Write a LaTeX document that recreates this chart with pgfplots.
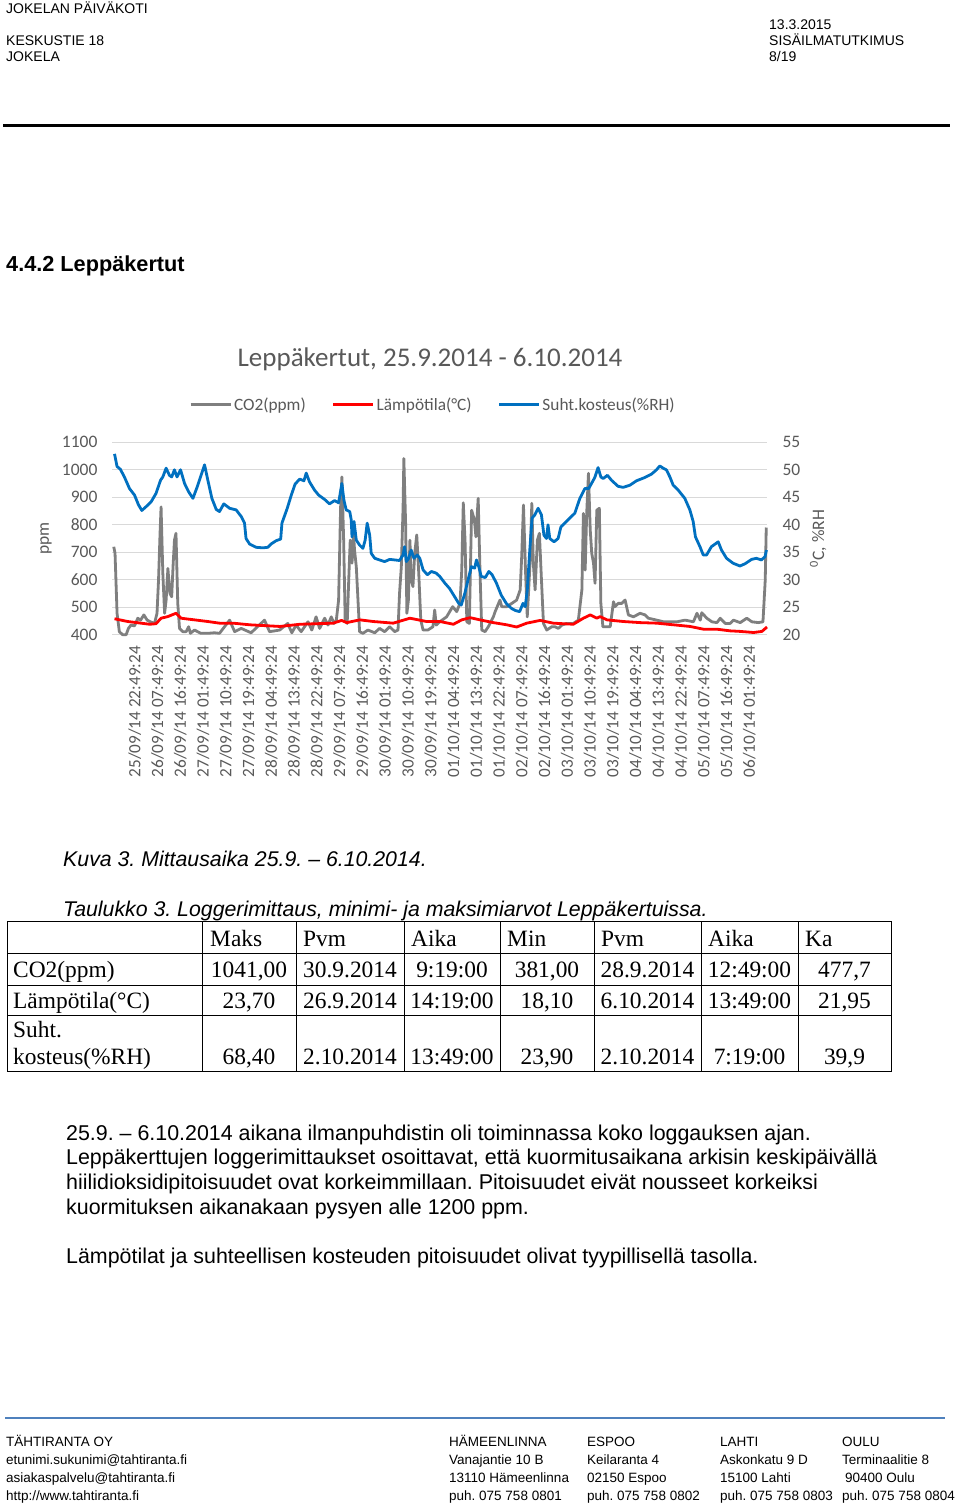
\documentclass[border=0pt]{standalone}
\usepackage{pgfplots}
\pgfplotsset{compat=1.18}
\usepackage{fontspec}
\setmainfont{Liberation Sans}
\newfontfamily\calibri{Carlito}
\newfontfamily\tnr{Liberation Serif}
\definecolor{tgray}{HTML}{595959}
\definecolor{sgray}{HTML}{7F7F7F}
\definecolor{sblue}{HTML}{0070C0}
\definecolor{sred}{HTML}{FF0000}
\definecolor{gridc}{HTML}{D9D9D9}
\definecolor{footc}{HTML}{4F81BD}
\newcommand\fs[1]{\fontsize{#1}{#1}\selectfont}
\frenchspacing
\begin{document}
\begin{tikzpicture}[x=1pt,y=1pt]
\path[use as bounding box, fill=white] (0pt,0pt) rectangle (960pt,-1506pt);
% header
\begin{scope}[every node/.style={anchor=base west, inner sep=0pt, font=\fs{14}}]
\node at (6pt,-14pt) {JOKELAN PÄIVÄKOTI};
\node at (769pt,-30pt) {13.3.2015};
\node at (6pt,-46pt) {KESKUSTIE 18};
\node at (769pt,-46pt) {SISÄILMATUTKIMUS};
\node at (6pt,-62pt) {JOKELA};
\node at (769pt,-62pt) {8/19};
\end{scope}
\draw[line width=3pt] (3pt,-126pt) -- (950pt,-126pt);
\node[anchor=base west, inner sep=0pt, font=\bfseries\fs{21.7}] at (6pt,-272pt) {4.4.2 Leppäkertut};

% chart
\begin{axis}[
  at={(112pt,-634.7pt)}, anchor=south west,
  scale only axis, width=655pt, height=192.4pt,
  xmin=-9, xmax=250, ymin=400, ymax=1100,
  ytick={400,500,...,1100},
  xtick={0,9,...,243},
  xticklabels={25/09/14 22:49:24,26/09/14 07:49:24,26/09/14 16:49:24,27/09/14 01:49:24,27/09/14 10:49:24,27/09/14 19:49:24,28/09/14 04:49:24,28/09/14 13:49:24,28/09/14 22:49:24,29/09/14 07:49:24,29/09/14 16:49:24,30/09/14 01:49:24,30/09/14 10:49:24,30/09/14 19:49:24,01/10/14 04:49:24,01/10/14 13:49:24,01/10/14 22:49:24,02/10/14 07:49:24,02/10/14 16:49:24,03/10/14 01:49:24,03/10/14 10:49:24,03/10/14 19:49:24,04/10/14 04:49:24,04/10/14 13:49:24,04/10/14 22:49:24,05/10/14 07:49:24,05/10/14 16:49:24,06/10/14 01:49:24},
  axis line style={draw=none},
  major tick length=0pt,
  ymajorgrids, grid style={gridc, line width=1pt},
  tick label style={font=\calibri\fs{17.5}, text=tgray},
  xticklabel style={font=\calibri\fs{17.2}, rotate=90, anchor=east},
  yticklabel shift=11pt, xticklabel shift=8pt,
  /pgf/number format/assume math mode=true,
  /pgf/number format/1000 sep={},
  ylabel={ppm},
  ylabel style={font=\calibri\fs{17.5}, text=tgray, at={(axis description cs:-0.1008,0.5)}, anchor=center},
  title={Leppäkertut, 25.9.2014 - 6.10.2014},
  title style={at={(0.4855,1.402)}, anchor=center, font=\calibri\fs{27}, text=tgray},
  clip=false,
]
\addplot[sgray, line width=2.8pt, line join=round] coordinates {
(-8.3,720) (-7.8,696) (-7.0,478) (-6.1,411) (-4.8,400) (-3.4,400) (-2.5,423) (-1.5,435) (-0.1,432) (1.2,460) (2.3,453) (3.6,472) (4.9,453) (6.2,447) (7.8,441) (8.8,478) (9.4,599) (10.0,769) (10.4,865) (11.1,623) (11.8,478) (12.4,526) (13.1,641) (13.9,551) (14.6,538) (15.2,660) (15.7,744) (16.3,769) (17.0,514) (17.7,423) (19.0,411) (20.3,411) (21.3,429) (22.0,405) (23.6,417) (24.9,411) (26.2,405) (28.9,405) (31.5,407) (33.5,405) (37.5,453) (39.5,411) (42.1,423) (46.0,407) (51.3,453) (53.3,411) (57.3,417) (60.5,441) (62.1,407) (63.8,435) (65.8,411) (68.5,447) (70.0,417) (71.7,465) (73.1,423) (75.1,460) (76.4,435) (77.7,465) (78.8,441) (79.7,453) (80.6,526) (81.4,865) (81.9,974) (82.6,744) (83.2,453) (84.0,441) (84.7,623) (85.2,744) (85.9,660) (86.5,769) (86.9,708) (87.6,647) (88.2,538) (88.9,411) (90.2,405) (92.2,417) (94.9,407) (96.8,423) (98.8,411) (100.8,429) (102.8,411) (104.1,417) (104.7,551) (105.4,647) (106.1,865) (106.4,1041) (107.1,805) (107.6,478) (108.2,526) (108.8,744) (109.3,599) (110.0,575) (110.7,696) (111.5,763) (112.3,623) (113.1,453) (114.0,417) (115.9,417) (117.9,429) (118.6,490) (119.2,435) (120.6,447) (123.3,465) (125.7,502) (127.3,484) (128.6,514) (129.3,635) (129.9,880) (130.6,744) (131.3,447) (132.3,441) (133.2,853) (134.3,817) (134.9,756) (135.8,896) (136.5,635) (137.2,417) (138.5,411) (139.8,429) (141.8,465) (142.5,484) (144.4,526) (145.1,502) (147.1,502) (149.1,514) (151.0,526) (152.4,563) (153.0,684) (153.7,872) (154.5,635) (155.2,465) (156.3,660) (157.0,878) (157.6,660) (158.3,563) (159.2,744) (160.0,769) (160.7,623) (161.6,441) (162.9,417) (164.9,429) (166.2,429) (167.5,423) (168.9,435) (170.8,441) (173.4,441) (175.4,453) (176.8,563) (177.4,841) (178.1,635) (178.7,841) (179.4,987) (180.1,781) (180.7,696) (181.4,660) (182.0,587) (182.7,853) (183.7,860) (184.3,514) (185.1,429) (186.7,429) (188.0,429) (189.3,520) (189.9,502) (191.2,514) (192.6,514) (193.9,526) (195.2,472) (197.2,465) (199.8,478) (201.8,472) (203.1,460) (206.4,453) (209.1,447) (211.7,447) (214.4,447) (217.6,453) (220.9,447) (222.3,478) (223.6,453) (224.2,480) (226.2,460) (228.2,447) (230.2,444) (231.5,460) (233.5,441) (235.4,441) (236.7,453) (239.4,444) (242.0,460) (244.0,447) (246.6,444) (248.4,447) (249.3,599) (249.7,790)
};
\end{axis}

\begin{axis}[
  at={(112pt,-634.7pt)}, anchor=south west,
  scale only axis, width=655pt, height=192.4pt,
  xmin=-9, xmax=250, ymin=20, ymax=55,
  ytick={20,25,...,55},
  hide x axis, axis y line*=right,
  axis line style={draw=none},
  major tick length=0pt,
  tick label style={font=\calibri\fs{17.5}, text=tgray},
  yticklabel shift=12pt,
  /pgf/number format/assume math mode=true,
  ylabel={\textsuperscript{0}C, \%RH},
  ylabel style={font=\calibri\fs{17.5}, text=tgray, at={(axis description cs:1.078,0.5)}, anchor=center},
  legend columns=3,
  legend cell align=left,
  legend image code/.code={\draw[#1] (0pt,0pt) -- (40pt,0pt);},
  legend style={at={(0.49,1.195)}, anchor=center, draw=none, fill=none, font=\calibri\fs{17.3}, text=tgray,
    /tikz/every even column/.append style={column sep=24pt}},
  clip=false,
]
\addlegendimage{sgray, line width=2.8pt}
\addlegendentry{CO2(ppm)}
\addplot[sred, line width=2.8pt, line join=round] coordinates {
(-8.0,22.9) (-2.8,22.4) (2.5,22.1) (5.9,21.9) (8.4,22.0) (10.4,23.0) (13.1,23.3) (16.3,23.9) (18.3,23.0) (23.6,22.7) (28.9,22.4) (33.5,22.1) (38.9,22.1) (45.5,21.8) (57.4,21.5) (65.3,21.9) (78.5,22.1) (81.8,22.6) (83.8,22.2) (89.0,22.7) (94.3,22.4) (102.2,22.1) (108.8,23.0) (115.4,22.4) (120.7,22.4) (126.0,21.9) (129.3,22.7) (132.6,23.1) (136.5,22.7) (141.8,22.2) (147.1,21.8) (151.0,21.4) (155.0,22.1) (160.3,22.6) (165.5,22.1) (173.4,21.9) (177.4,23.0) (180.1,23.6) (182.7,23.0) (184.0,23.3) (186.7,22.7) (193.2,22.4) (199.8,22.2) (206.4,22.1) (213.0,21.8) (219.6,21.5) (224.9,21.0) (230.2,21.0) (235.4,20.7) (239.4,20.6) (244.7,20.4) (248.0,20.6) (250.0,21.4)
};
\addlegendentry{Lämpötila(°C)}
\addplot[sblue, line width=2.8pt, line join=round] coordinates {
(-8.0,52.9) (-7.0,50.6) (-5.7,50.1) (-4.1,48.7) (-2.1,46.6) (-0.1,45.4) (1.5,43.6) (2.8,42.6) (4.5,43.3) (6.5,44.2) (8.4,45.7) (10.2,48.1) (11.1,48.7) (12.4,50.3) (13.7,49.0) (14.6,48.7) (15.7,50.0) (16.7,48.7) (18.1,50.0) (19.7,47.5) (21.3,46.0) (23.0,44.8) (24.7,46.9) (26.5,49.4) (27.6,50.9) (28.9,48.1) (30.5,44.8) (32.2,42.8) (33.5,42.4) (35.2,43.8) (37.5,43.0) (40.1,42.7) (42.1,41.5) (43.4,40.3) (44.0,37.5) (45.4,36.5) (48.0,35.9) (50.7,35.8) (52.6,35.9) (53.9,36.5) (55.9,37.1) (57.7,37.4) (58.2,40.3) (60.3,43.0) (61.9,45.4) (63.4,47.4) (65.2,48.3) (66.9,48.0) (67.8,49.4) (69.1,47.8) (71.1,46.3) (72.7,45.4) (75.1,44.6) (77.0,43.8) (79.0,44.4) (80.6,44.0) (81.9,47.5) (82.7,44.5) (83.6,42.7) (85.0,42.4) (85.6,40.9) (85.9,37.8) (86.7,40.6) (87.6,37.2) (88.9,36.3) (90.2,35.7) (91.1,37.2) (91.9,40.3) (92.9,38.1) (93.5,34.8) (94.9,33.9) (96.8,33.6) (98.8,33.3) (100.8,33.7) (102.8,33.6) (104.7,33.5) (106.1,34.5) (106.7,36.0) (107.4,33.3) (108.3,33.9) (109.3,35.4) (110.4,33.9) (111.7,34.5) (112.7,33.9) (114.0,31.8) (115.7,30.9) (117.3,31.5) (119.2,31.2) (120.6,30.6) (122.6,29.4) (124.5,28.4) (126.5,26.9) (128.1,25.7) (129.1,25.4) (130.5,27.5) (131.8,30.0) (133.1,32.4) (134.4,32.1) (135.1,33.6) (136.0,32.4) (137.0,30.6) (138.6,30.4) (140.0,31.5) (141.3,30.9) (143.0,29.4) (144.9,27.2) (146.9,25.7) (148.9,24.8) (150.5,24.4) (152.2,24.2) (153.5,25.7) (154.4,25.1) (155.2,28.1) (156.2,35.4) (157.1,41.2) (158.2,41.8) (159.5,43.0) (160.8,41.8) (161.8,38.1) (162.8,37.5) (163.4,40.0) (164.1,37.5) (165.8,36.9) (167.4,37.5) (168.5,39.6) (171.3,40.9) (174.0,42.1) (176.0,44.8) (178.0,46.6) (179.5,46.6) (180.6,47.5) (181.9,48.6) (183.2,50.4) (184.3,48.7) (185.2,48.4) (186.9,49.0) (188.5,48.1) (191.1,47.0) (193.1,46.8) (195.8,47.2) (198.4,48.0) (201.7,48.6) (204.3,49.2) (206.3,50.0) (207.6,50.7) (208.9,50.3) (210.2,50.0) (211.6,48.7) (212.9,47.2) (214.9,46.3) (217.5,44.8) (219.5,42.7) (220.8,40.6) (221.7,37.8) (223.5,36.0) (224.8,34.5) (226.1,34.5) (228.0,36.0) (230.7,36.9) (232.0,35.4) (234.0,33.9) (236.6,33.0) (239.3,32.5) (241.3,32.9) (243.9,33.7) (245.8,33.9) (247.8,33.6) (249.2,34.2) (249.8,35.4)
};
\addlegendentry{Suht.kosteus(\%RH)}
\end{axis}

% captions
\node[anchor=base west, inner sep=0pt, font=\itshape\fs{21.3}] at (63pt,-866pt) {Kuva 3. Mittausaika 25.9. -- 6.10.2014.};
\node[anchor=base west, inner sep=0pt, font=\itshape\fs{21.3}] at (63pt,-916pt) {Taulukko 3. Loggerimittaus, minimi- ja maksimiarvot Leppäkertuissa.};

% table
\begin{scope}[line width=1pt]
\draw (7pt,-921pt) rectangle (891pt,-1071pt);
\foreach \yy in {953,985,1015} \draw (7pt,-\yy pt) -- (891pt,-\yy pt);
\foreach \xx in {202,296,404,500,594,701,798} \draw (\xx pt,-921pt) -- (\xx pt,-1071pt);
\end{scope}
\begin{scope}[every node/.style={inner sep=0pt, font=\tnr\fs{23.4}}]
\node[anchor=base west] at (210pt,-946pt) {Maks};
\node[anchor=base west] at (303pt,-946pt) {Pvm};
\node[anchor=base west] at (411pt,-946pt) {Aika};
\node[anchor=base west] at (507pt,-946pt) {Min};
\node[anchor=base west] at (601pt,-946pt) {Pvm};
\node[anchor=base west] at (708pt,-946pt) {Aika};
\node[anchor=base west] at (805pt,-946pt) {Ka};
\node[anchor=base west] at (13pt,-977pt) {CO2(ppm)};
\node[anchor=base west] at (13pt,-1008pt) {Lämpötila(°C)};
\node[anchor=base west] at (13pt,-1037pt) {Suht.};
\node[anchor=base west] at (13pt,-1064pt) {kosteus(\%RH)};
\node[anchor=base] at (249pt,-977pt) {1041,00};
\node[anchor=base] at (350pt,-977pt) {30.9.2014};
\node[anchor=base] at (452pt,-977pt) {9:19:00};
\node[anchor=base] at (547pt,-977pt) {381,00};
\node[anchor=base] at (647.5pt,-977pt) {28.9.2014};
\node[anchor=base] at (749.5pt,-977pt) {12:49:00};
\node[anchor=base] at (844.5pt,-977pt) {477,7};
\node[anchor=base] at (249pt,-1008pt) {23,70};
\node[anchor=base] at (350pt,-1008pt) {26.9.2014};
\node[anchor=base] at (452pt,-1008pt) {14:19:00};
\node[anchor=base] at (547pt,-1008pt) {18,10};
\node[anchor=base] at (647.5pt,-1008pt) {6.10.2014};
\node[anchor=base] at (749.5pt,-1008pt) {13:49:00};
\node[anchor=base] at (844.5pt,-1008pt) {21,95};
\node[anchor=base] at (249pt,-1064pt) {68,40};
\node[anchor=base] at (350pt,-1064pt) {2.10.2014};
\node[anchor=base] at (452pt,-1064pt) {13:49:00};
\node[anchor=base] at (547pt,-1064pt) {23,90};
\node[anchor=base] at (647.5pt,-1064pt) {2.10.2014};
\node[anchor=base] at (749.5pt,-1064pt) {7:19:00};
\node[anchor=base] at (844.5pt,-1064pt) {39,9};
\end{scope}

% body text
\begin{scope}[every node/.style={anchor=base west, inner sep=0pt, font=\fs{21.4}}]
\node at (66pt,-1140.5pt) {25.9. -- 6.10.2014 aikana ilmanpuhdistin oli toiminnassa koko loggauksen ajan.};
\node at (66pt,-1164.5pt) {Leppäkerttujen loggerimittaukset osoittavat, että kuormitusaikana arkisin keskipäivällä};
\node at (66pt,-1189.5pt) {hiilidioksidipitoisuudet ovat korkeimmillaan. Pitoisuudet eivät nousseet korkeiksi};
\node at (66pt,-1214.5pt) {kuormituksen aikanakaan pysyen alle 1200 ppm.};
\node at (66pt,-1263.5pt) {Lämpötilat ja suhteellisen kosteuden pitoisuudet olivat tyypillisellä tasolla.};
\end{scope}

% footer
\draw[footc, line width=2pt] (5pt,-1418pt) -- (945pt,-1418pt);
\begin{scope}[every node/.style={anchor=base west, inner sep=0pt, font=\fs{13.5}}]
\node at (6pt,-1446pt) {TÄHTIRANTA OY};
\node at (6pt,-1464pt) {etunimi.sukunimi@tahtiranta.fi};
\node at (6pt,-1482pt) {asiakaspalvelu@tahtiranta.fi};
\node at (6pt,-1500pt) {http://www.tahtiranta.fi};
\node at (449pt,-1446pt) {HÄMEENLINNA};
\node at (449pt,-1464pt) {Vanajantie 10 B};
\node at (449pt,-1482pt) {13110 Hämeenlinna};
\node at (449pt,-1500pt) {puh. 075 758 0801};
\node at (587pt,-1446pt) {ESPOO};
\node at (587pt,-1464pt) {Keilaranta 4};
\node at (587pt,-1482pt) {02150 Espoo};
\node at (587pt,-1500pt) {puh. 075 758 0802};
\node at (720pt,-1446pt) {LAHTI};
\node at (720pt,-1464pt) {Askonkatu 9 D};
\node at (720pt,-1482pt) {15100 Lahti};
\node at (720pt,-1500pt) {puh. 075 758 0803};
\node at (842pt,-1446pt) {OULU};
\node at (842pt,-1464pt) {Terminaalitie 8};
\node at (845pt,-1482pt) {90400 Oulu};
\node at (842pt,-1500pt) {puh. 075 758 0804};
\end{scope}
\end{tikzpicture}
\end{document}
